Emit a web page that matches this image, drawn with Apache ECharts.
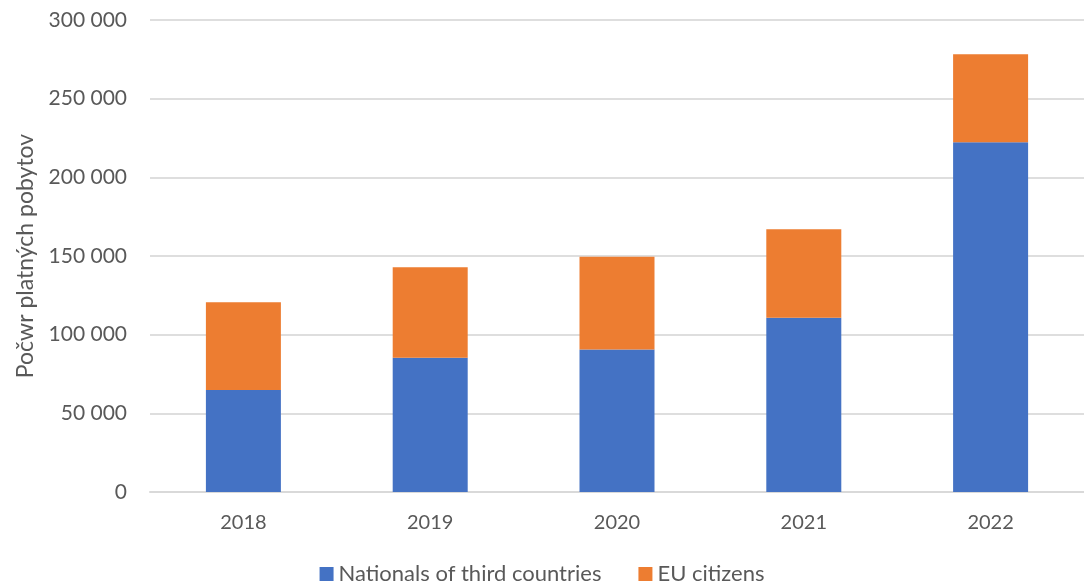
<!DOCTYPE html>
<html>
<head>
<meta charset="utf-8">
<script src="https://cdn.jsdelivr.net/npm/echarts@6/dist/echarts.min.js"></script>
<style>
html,body{margin:0;padding:0;background:#fff;}
#chart{width:1084px;height:586px;}
</style>
</head>
<body>
<div id="chart"></div>
<script>
const categories = ['2018', '2019', '2020', '2021', '2022'];
const nationals = [64800, 85400, 90500, 110800, 222300];
const euCitizens = [55800, 57400, 59100, 56200, 55900];
const seriesNames = ['Nationals of third countries', 'EU citizens'];
const yAxisName = 'Počwr platných pobytov';

const FONT = 'Lato';
const TXT = '#595959';
const chart = echarts.init(document.getElementById('chart'), null, {renderer: 'canvas'});
chart.setOption({
  animation: false,
  color: ['#4472C4', '#ED7D31'],
  grid: {left: 150, top: 20, width: 940, bottom: 94, containLabel: false},
  legend: {
    top: 558, left: 'center',
    itemWidth: 14, itemHeight: 14, itemGap: 37,
    icon: 'rect',
    textStyle: {fontFamily: FONT, fontSize: 22, color: TXT},
    data: seriesNames
  },
  xAxis: {
    type: 'category',
    data: categories,
    axisLine: {lineStyle: {color: '#d9d9d9', width: 2}},
    axisTick: {show: false},
    axisLabel: {fontFamily: FONT, fontSize: 20, color: TXT, margin: 21}
  },
  yAxis: {
    type: 'value',
    min: 0, max: 300000, interval: 50000,
    name: yAxisName,
    nameLocation: 'middle',
    nameGap: 113,
    nameTextStyle: {fontFamily: FONT, fontSize: 23, color: TXT},
    axisLine: {show: false},
    axisTick: {show: false},
    splitLine: {lineStyle: {color: '#dedede', width: 2}},
    axisLabel: {
      fontFamily: FONT, fontSize: 21, color: TXT, margin: 23,
      formatter: v => String(v).replace(/\B(?=(\d{3})+(?!\d))/g, ' ')
    }
  },
  series: [
    {name: seriesNames[0], type: 'bar', stack: 'total', data: nationals, barWidth: 75},
    {name: seriesNames[1], type: 'bar', stack: 'total', data: euCitizens, barWidth: 75}
  ]
});
</script>
</body>
</html>
